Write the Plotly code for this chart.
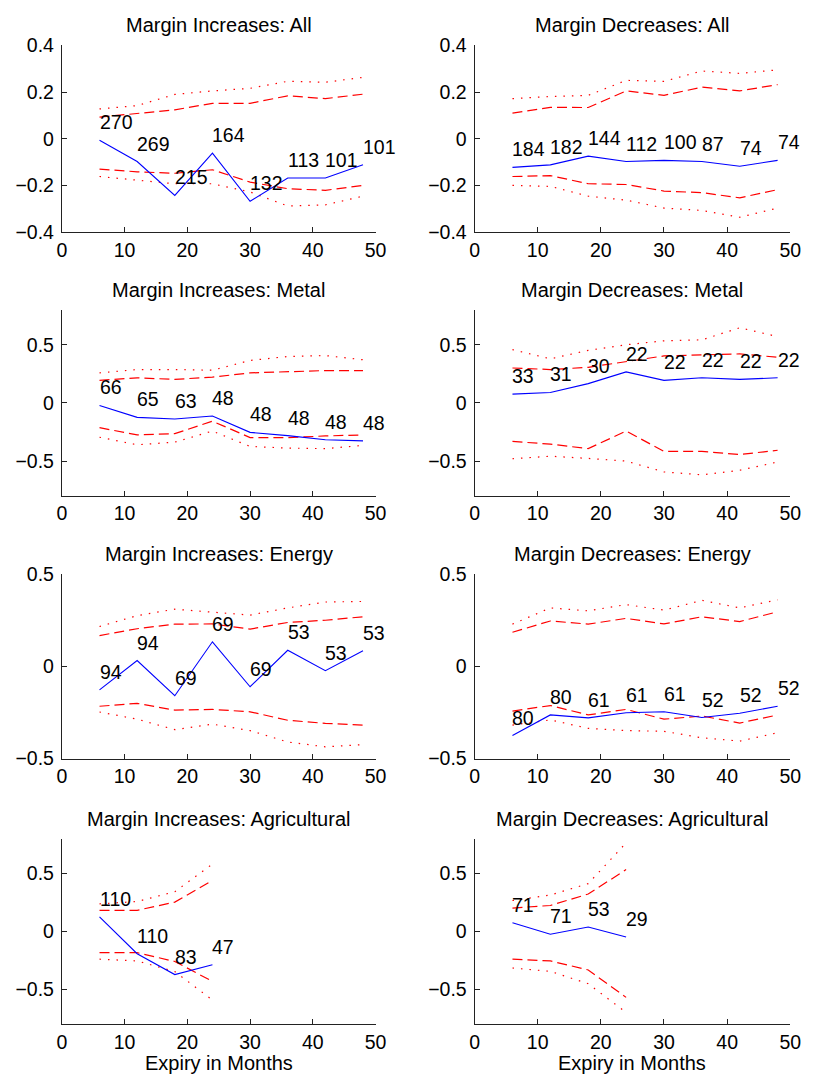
import plotly.graph_objects as go

# Expiry horizons (months)
months = [6, 12, 18, 24, 30, 36, 42, 48]
months_ag = [6, 12, 18, 24]

# ---- Margin increases: All ----
inc_all = [-0.006, -0.097, -0.242, -0.061, -0.267, -0.167, -0.167, -0.111]
inc_all_in_hi = [0.093, 0.107, 0.124, 0.152, 0.152, 0.184, 0.172, 0.191]
inc_all_in_lo = [-0.129, -0.141, -0.147, -0.132, -0.185, -0.213, -0.220, -0.199]
inc_all_out_hi = [0.128, 0.142, 0.190, 0.205, 0.216, 0.246, 0.242, 0.263]
inc_all_out_lo = [-0.161, -0.175, -0.192, -0.192, -0.227, -0.287, -0.282, -0.245]
inc_all_n = [270, 269, 215, 164, 132, 113, 101, 101]

# ---- Margin decreases: All ----
dec_all = [-0.122, -0.111, -0.074, -0.097, -0.092, -0.097, -0.117, -0.092]
dec_all_in_hi = [0.110, 0.135, 0.134, 0.205, 0.186, 0.221, 0.205, 0.232]
dec_all_in_lo = [-0.161, -0.157, -0.192, -0.195, -0.223, -0.230, -0.252, -0.217]
dec_all_out_hi = [0.172, 0.181, 0.186, 0.250, 0.246, 0.290, 0.280, 0.295]
dec_all_out_lo = [-0.199, -0.203, -0.245, -0.262, -0.296, -0.306, -0.335, -0.296]
dec_all_n = [184, 182, 144, 112, 100, 87, 74, 74]

# ---- Margin increases: Metal ----
inc_met = [-0.022, -0.124, -0.138, -0.112, -0.253, -0.281, -0.317, -0.326]
inc_met_in_hi = [0.194, 0.216, 0.202, 0.222, 0.258, 0.267, 0.278, 0.278]
inc_met_in_lo = [-0.213, -0.275, -0.264, -0.157, -0.298, -0.298, -0.284, -0.275]
inc_met_out_hi = [0.258, 0.287, 0.287, 0.281, 0.365, 0.399, 0.407, 0.371]
inc_met_out_lo = [-0.295, -0.360, -0.337, -0.242, -0.374, -0.388, -0.393, -0.365]
inc_met_n = [66, 65, 63, 48, 48, 48, 48, 48]

# ---- Margin decreases: Metal ----
dec_met = [0.076, 0.090, 0.166, 0.267, 0.194, 0.216, 0.202, 0.216]
dec_met_in_hi = [0.300, 0.287, 0.306, 0.357, 0.404, 0.413, 0.421, 0.393]
dec_met_in_lo = [-0.331, -0.354, -0.393, -0.242, -0.416, -0.416, -0.444, -0.407]
dec_met_out_hi = [0.458, 0.379, 0.452, 0.500, 0.534, 0.542, 0.646, 0.570]
dec_met_out_lo = [-0.480, -0.458, -0.477, -0.500, -0.593, -0.618, -0.579, -0.508]
dec_met_n = [33, 31, 30, 22, 22, 22, 22, 22]

# ---- Margin increases: Energy ----
inc_en = [-0.127, 0.032, -0.159, 0.134, -0.110, 0.088, -0.023, 0.085]
inc_en_in_hi = [0.168, 0.205, 0.230, 0.231, 0.203, 0.239, 0.251, 0.270]
inc_en_in_lo = [-0.216, -0.200, -0.237, -0.233, -0.246, -0.292, -0.309, -0.318]
inc_en_out_hi = [0.217, 0.276, 0.311, 0.293, 0.279, 0.318, 0.350, 0.353]
inc_en_out_lo = [-0.247, -0.286, -0.343, -0.313, -0.348, -0.410, -0.436, -0.424]
inc_en_n = [94, 94, 69, 69, 69, 53, 53, 53]

# ---- Margin decreases: Energy ----
dec_en = [-0.375, -0.263, -0.279, -0.251, -0.246, -0.277, -0.254, -0.216]
dec_en_in_hi = [0.186, 0.247, 0.230, 0.261, 0.231, 0.270, 0.244, 0.297]
dec_en_in_lo = [-0.242, -0.212, -0.263, -0.233, -0.286, -0.269, -0.307, -0.263]
dec_en_out_hi = [0.230, 0.318, 0.302, 0.336, 0.306, 0.359, 0.318, 0.362]
dec_en_out_lo = [-0.318, -0.290, -0.336, -0.348, -0.352, -0.387, -0.405, -0.360]
dec_en_n = [80, 80, 61, 61, 61, 52, 52, 52]

# ---- Margin increases: Agricultural ----
inc_ag = [0.127, -0.192, -0.372, -0.287]
inc_ag_in_hi = [0.183, 0.183, 0.254, 0.442]
inc_ag_in_lo = [-0.183, -0.183, -0.259, -0.431]
inc_ag_out_hi = [0.239, 0.259, 0.344, 0.583]
inc_ag_out_lo = [-0.239, -0.254, -0.346, -0.592]
inc_ag_n = [110, 110, 83, 47]

# ---- Margin decreases: Agricultural ----
dec_ag = [0.076, -0.023, 0.039, -0.048]
dec_ag_in_hi = [0.203, 0.225, 0.324, 0.535]
dec_ag_in_lo = [-0.239, -0.254, -0.332, -0.569]
dec_ag_out_hi = [0.268, 0.315, 0.414, 0.766]
dec_ag_out_lo = [-0.315, -0.344, -0.451, -0.699]
dec_ag_n = [71, 71, 53, 29]

# Axis settings per row
x_ticks = [0, 10, 20, 30, 40, 50]
y_range_all = [-0.4, 0.4]
y_ticks_all = [-0.4, -0.2, 0, 0.2, 0.4]
y_range_wide = [-0.8, 0.8]
y_range_en = [-0.5, 0.5]
y_ticks_half = [-0.5, 0, 0.5]

panels = [
    ("Margin Increases: All", months, inc_all, inc_all_in_hi, inc_all_in_lo,
     inc_all_out_hi, inc_all_out_lo, inc_all_n, y_range_all, y_ticks_all),
    ("Margin Decreases: All", months, dec_all, dec_all_in_hi, dec_all_in_lo,
     dec_all_out_hi, dec_all_out_lo, dec_all_n, y_range_all, y_ticks_all),
    ("Margin Increases: Metal", months, inc_met, inc_met_in_hi, inc_met_in_lo,
     inc_met_out_hi, inc_met_out_lo, inc_met_n, y_range_wide, y_ticks_half),
    ("Margin Decreases: Metal", months, dec_met, dec_met_in_hi, dec_met_in_lo,
     dec_met_out_hi, dec_met_out_lo, dec_met_n, y_range_wide, y_ticks_half),
    ("Margin Increases: Energy", months, inc_en, inc_en_in_hi, inc_en_in_lo,
     inc_en_out_hi, inc_en_out_lo, inc_en_n, y_range_en, y_ticks_half),
    ("Margin Decreases: Energy", months, dec_en, dec_en_in_hi, dec_en_in_lo,
     dec_en_out_hi, dec_en_out_lo, dec_en_n, y_range_en, y_ticks_half),
    ("Margin Increases: Agricultural", months_ag, inc_ag, inc_ag_in_hi, inc_ag_in_lo,
     inc_ag_out_hi, inc_ag_out_lo, inc_ag_n, y_range_wide, y_ticks_half),
    ("Margin Decreases: Agricultural", months_ag, dec_ag, dec_ag_in_hi, dec_ag_in_lo,
     dec_ag_out_hi, dec_ag_out_lo, dec_ag_n, y_range_wide, y_ticks_half),
]

W, H = 814, 1089
FONT = "Liberation Sans, Arial, Helvetica, sans-serif"
FS = 19.5

# Plot-area placement in pixels: (left, right) per column, (top, bottom) per row
col_px = [(58, 378), (479, 801)]
row_px = [(35, 226), (305, 495), (575, 763), (845, 1034)]

fig = go.Figure()
layout = dict(
    width=W, height=H,
    margin=dict(l=0, r=0, t=0, b=0),
    paper_bgcolor="white", plot_bgcolor="white",
    showlegend=False,
    font=dict(family=FONT, size=FS, color="black"),
)
annotations = []

dash_style = dict(color="red", width=1.2, dash="10px,5px")
dot_style = dict(color="red", width=1.2, dash="1.5px,7px")
est_style = dict(color="blue", width=1.1)

for i, (title, xs, est, in_hi, in_lo, out_hi, out_lo, counts, yr, yt) in enumerate(panels):
    k = "" if i == 0 else str(i + 1)
    xa, ya = "x" + k, "y" + k
    row, col = divmod(i, 2)
    (xl, xr), (yt_px, yb_px) = col_px[col], row_px[row]
    xdom = [xl / W, xr / W]
    ydom = [1 - yb_px / H, 1 - yt_px / H]

    for ys, style in ((out_hi, dot_style), (out_lo, dot_style),
                      (in_hi, dash_style), (in_lo, dash_style),
                      (est, est_style)):
        fig.add_trace(go.Scatter(x=xs, y=ys, xaxis=xa, yaxis=ya, mode="lines",
                                 line=style, hoverinfo="skip"))

    axis_common = dict(showline=True, linecolor="#222", linewidth=1, mirror=False,
                       ticks="inside", ticklen=5, tickcolor="#222", tickwidth=1,
                       showgrid=False, zeroline=False, fixedrange=True,
                       tickfont=dict(family=FONT, size=FS, color="black"))
    layout["xaxis" + k] = dict(domain=xdom, anchor=ya, range=[0, 50],
                               tickvals=x_ticks, **axis_common)
    layout["yaxis" + k] = dict(domain=ydom, anchor=xa, range=yr,
                               tickvals=yt, ticklabelstandoff=3, **axis_common)

    # Panel title
    annotations.append(dict(text=title, xref="paper", yref="paper",
                            x=(xdom[0] + xdom[1]) / 2, y=ydom[1],
                            xanchor="center", yanchor="middle", yshift=20,
                            borderpad=0, showarrow=False, font=dict(family=FONT, size=20)))
    # Observation counts next to the point estimates
    for xv, yv, n in zip(xs, est, counts):
        annotations.append(dict(text=str(n), xref=xa, yref=ya, x=xv, y=yv,
                                xanchor="left", yanchor="middle", yshift=18,
                                xshift=-1, borderpad=0,
                                showarrow=False, font=dict(family=FONT, size=FS)))
    # x-axis label on the bottom row
    if row == 3:
        annotations.append(dict(text="Expiry in Months", xref="paper", yref="paper",
                                x=(xdom[0] + xdom[1]) / 2, y=ydom[0],
                                xanchor="center", yanchor="middle", yshift=-39,
                                borderpad=0, showarrow=False, font=dict(family=FONT, size=20)))

layout["annotations"] = annotations
fig.update_layout(**layout)
fig.write_html("out.html", config={"staticPlot": True, "displayModeBar": False})
